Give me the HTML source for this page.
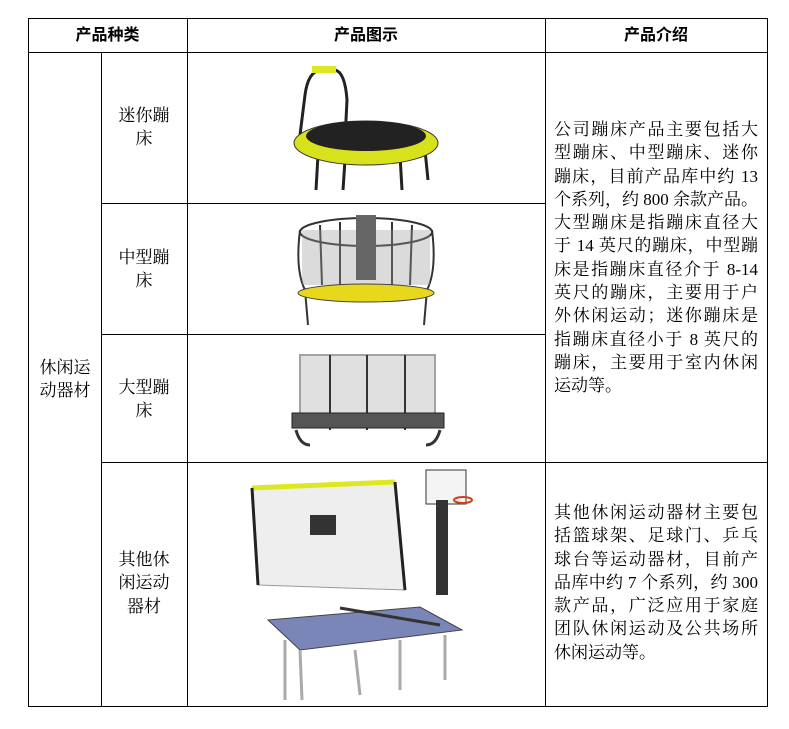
<!DOCTYPE html>
<html><head><meta charset="utf-8"><style>
body{margin:0;width:789px;height:729px;background:#fff;position:relative;overflow:hidden;font-family:"Liberation Serif","Noto Serif CJK SC",serif;color:#000}
.l{position:absolute;background:#000}
.t{position:absolute;font-size:17px;line-height:23.3px;text-align:center}
.h{font-family:"Liberation Sans","Noto Sans CJK SC",sans-serif;font-weight:bold;font-size:16px}
.s{font-family:"Liberation Serif","Noto Serif CJK SC",serif}
.p{position:absolute;font-size:17px;line-height:23.3px;width:204px}
.p div{text-align:justify;text-align-last:justify;white-space:nowrap}
.p div.e{text-align-last:left}
</style></head><body>
<div class="l" style="left:28px;top:18px;width:740px;height:1px"></div>
<div class="l" style="left:28px;top:52px;width:740px;height:1px"></div>
<div class="l" style="left:28px;top:706px;width:740px;height:1px"></div>
<div class="l" style="left:101px;top:203px;width:444px;height:1px"></div>
<div class="l" style="left:101px;top:334px;width:444px;height:1px"></div>
<div class="l" style="left:101px;top:462px;width:667px;height:1px"></div>
<div class="l" style="left:28px;top:18px;width:1px;height:689px"></div>
<div class="l" style="left:101px;top:52px;width:1px;height:655px"></div>
<div class="l" style="left:187px;top:18px;width:1px;height:689px"></div>
<div class="l" style="left:545px;top:18px;width:1px;height:689px"></div>
<div class="l" style="left:767px;top:18px;width:1px;height:689px"></div>
<div class="t h" style="left:28px;top:24px;width:159px">产品种类</div>
<div class="t h" style="left:187px;top:24px;width:358px">产品图示</div>
<div class="t h" style="left:545px;top:24px;width:222px">产品介绍</div>
<div class="t s" style="left:32px;top:356px;width:66px">休闲运<br>动器材</div>
<div class="t s" style="left:106px;top:104px;width:76px">迷你蹦<br>床</div>
<div class="t s" style="left:106px;top:246px;width:76px">中型蹦<br>床</div>
<div class="t s" style="left:106px;top:376px;width:76px">大型蹦<br>床</div>
<div class="t s" style="left:106px;top:548px;width:76px">其他休<br>闲运动<br>器材</div>
<div class="p" style="left:554px;top:118px"><div>公司蹦床产品主要包括大</div><div>型蹦床、中型蹦床、迷你</div><div>蹦床，目前产品库中约 13</div><div>个系列，约 800 余款产品。</div><div>大型蹦床是指蹦床直径大</div><div>于 14 英尺的蹦床，中型蹦</div><div>床是指蹦床直径介于 8-14</div><div>英尺的蹦床，主要用于户</div><div>外休闲运动；迷你蹦床是</div><div>指蹦床直径小于 8 英尺的</div><div>蹦床，主要用于室内休闲</div><div class="e">运动等。</div></div>
<div class="p" style="left:554px;top:501px"><div>其他休闲运动器材主要包</div><div>括篮球架、足球门、乒乓</div><div>球台等运动器材，目前产</div><div>品库中约 7 个系列，约 300</div><div>款产品，广泛应用于家庭</div><div>团队休闲运动及公共场所</div><div class="e">休闲运动等。</div></div>
<svg style="position:absolute;left:0;top:0" width="789" height="729">
<g stroke="#222" stroke-width="3" fill="none">
<path d="M300 135 L305 95 Q308 72 320 70 L330 70"/><path d="M345 140 L347 100 Q345 72 335 70"/>
<line x1="318" y1="155" x2="316" y2="190"/><line x1="400" y1="155" x2="402" y2="190"/><line x1="425" y1="150" x2="428" y2="180"/><line x1="345" y1="160" x2="343" y2="190"/>
</g>
<rect x="312" y="66" width="24" height="7" fill="#dde820"/>
<ellipse cx="366" cy="143" rx="72" ry="22" fill="#d8e21c" stroke="#333"/>
<ellipse cx="366" cy="136" rx="60" ry="15" fill="#222"/>
<g stroke="#333" stroke-width="2" fill="none">
<path d="M300 230 Q295 270 305 290"/><path d="M432 230 Q437 270 427 290"/>
<path d="M320 225 L322 285"/><path d="M340 222 L340 290"/><path d="M392 222 L392 290"/><path d="M412 225 L410 285"/>
<path d="M305 290 L308 325"/><path d="M427 290 L424 325"/>
</g>
<ellipse cx="366" cy="232" rx="66" ry="14" fill="none" stroke="#333" stroke-width="2"/>
<rect x="302" y="230" width="128" height="55" fill="#999" opacity="0.35"/>
<rect x="356" y="215" width="20" height="65" fill="#666"/>
<ellipse cx="366" cy="293" rx="68" ry="9" fill="#e8d81c" stroke="#444"/>
<rect x="300" y="355" width="135" height="60" fill="#bbb" opacity="0.45" stroke="#333" stroke-width="2"/>
<g stroke="#333" stroke-width="2"><line x1="330" y1="355" x2="330" y2="430"/><line x1="367" y1="355" x2="367" y2="430"/><line x1="405" y1="355" x2="405" y2="430"/></g>
<rect x="292" y="413" width="152" height="15" fill="#555" stroke="#222"/>
<path d="M296 430 Q300 445 310 445 M440 430 Q436 445 426 445" stroke="#333" stroke-width="3" fill="none"/>
<path d="M252 488 L395 482 L405 590 L258 585 Z" fill="#eee" stroke="#999"/>
<path d="M252 488 L395 482" stroke="#dde820" stroke-width="5"/>
<path d="M252 488 L258 585 M395 482 L405 590" stroke="#222" stroke-width="3"/>
<rect x="310" y="515" width="26" height="20" fill="#333"/>
<rect x="426" y="470" width="40" height="34" fill="#f4f4f4" stroke="#333"/>
<rect x="436" y="500" width="12" height="95" fill="#333"/>
<ellipse cx="463" cy="500" rx="9" ry="3" fill="none" stroke="#d4401a" stroke-width="2"/>
<path d="M268 620 L420 607 L462 630 L300 650 Z" fill="#7a86b8" stroke="#444"/>
<path d="M340 608 L440 625" stroke="#333" stroke-width="3"/>
<g stroke="#aaa" stroke-width="3"><line x1="285" y1="640" x2="285" y2="700"/><line x1="300" y1="650" x2="302" y2="700"/><line x1="445" y1="635" x2="445" y2="680"/><line x1="355" y1="650" x2="360" y2="695"/><line x1="400" y1="640" x2="400" y2="690"/></g>
</svg>
</body></html>
